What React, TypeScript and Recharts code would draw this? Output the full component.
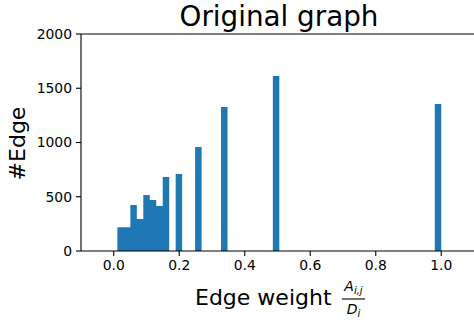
import React from 'react';
import {
  ComposedChart,
  Area,
  XAxis,
  YAxis,
  ReferenceLine,
} from 'recharts';

// histogram: 50 bins between the smallest weight and 1.0
const binStart = 1 / 90;
const binEnd = 1;
const binCounts = [
  220, 220, 424, 295, 516, 470, 415, 682, 0, 710,
  0, 0, 958, 0, 0, 0, 1327, 0, 0, 0,
  0, 0, 0, 0, 1613, 0, 0, 0, 0, 0,
  0, 0, 0, 0, 0, 0, 0, 0, 0, 0,
  0, 0, 0, 0, 0, 0, 0, 0, 0, 1355,
];
const xTicks = [0, 0.2, 0.4, 0.6, 0.8, 1.0];
const yTicks = [0, 500, 1000, 1500, 2000];

const binWidth = (binEnd - binStart) / binCounts.length;
const data = binCounts.map((count, i) => ({ x: binStart + i * binWidth, count }));
data.push({ x: binEnd, count: binCounts[binCounts.length - 1] });

const FONT = 'DejaVu Sans';
const BLUE = '#1f77b4';

function XLabel(props: any) {
  const { x, y } = props.viewBox;
  const tx = x + 114;
  const ty = y + 54;
  const fx = tx + 158.5; // fraction centre
  const ly = ty - 6;
  return (
    <g fontFamily={FONT} fill="#000">
      <text x={tx} y={ty} fontSize={22}>
        Edge weight
      </text>
      <text x={fx} y={ly - 8} fontSize={14} fontStyle="italic" textAnchor="middle">
        A
        <tspan fontSize={10} dy={3}>i,j</tspan>
      </text>
      <line x1={fx - 11.5} x2={fx + 11.5} y1={ly} y2={ly} stroke="#000" strokeWidth={1.1} />
      <text x={fx} y={ly + 14.5} fontSize={14} fontStyle="italic" textAnchor="middle">
        D
        <tspan fontSize={10} dy={3}>i</tspan>
      </text>
    </g>
  );
}

function YLabel(props: any) {
  const { y, height } = props.viewBox;
  const cx = 25;
  const cy = y + height / 2 + 1;
  return (
    <text
      x={cx}
      y={cy}
      transform={`rotate(-90, ${cx}, ${cy})`}
      textAnchor="middle"
      fontSize={22}
      fontFamily={FONT}
      fill="#000"
    >
      #Edge
    </text>
  );
}

export default function App() {
  return (
    <div style={{ width: 474, height: 322, position: 'relative' }}>
      <style>{`body{margin:0}`}</style>
      <ComposedChart
        width={474}
        height={322}
        data={data}
        margin={{ top: 34, right: 0, bottom: 0, left: 0 }}
      >
        <XAxis
          dataKey="x"
          type="number"
          domain={[-0.1, 1.1]}
          ticks={xTicks}
          tickFormatter={(v) => Number(v).toFixed(1)}
          allowDataOverflow
          height={71}
          tickSize={5}
          tickMargin={4}
          axisLine={{ stroke: '#000', strokeWidth: 1.1 }}
          tickLine={{ stroke: '#000', strokeWidth: 1.1 }}
          tick={{ fill: '#000', fontSize: 13.9, fontFamily: FONT }}
          label={<XLabel />}
        />
        <YAxis
          type="number"
          domain={[0, 2000]}
          ticks={yTicks}
          width={81}
          tickSize={5}
          tickMargin={4}
          axisLine={{ stroke: '#000', strokeWidth: 1.1 }}
          tickLine={{ stroke: '#000', strokeWidth: 1.1 }}
          tick={{ fill: '#000', fontSize: 13.9, fontFamily: FONT }}
          label={<YLabel />}
        />
        <ReferenceLine y={2000} stroke="#000" strokeWidth={1.1} />
        <Area
          type="stepAfter"
          dataKey="count"
          stroke="none"
          fill={BLUE}
          fillOpacity={1}
          isAnimationActive={false}
        />
        <text
          x={279}
          y={26}
          textAnchor="middle"
          fontSize={27.8}
          fontFamily={FONT}
          fill="#000"
        >
          Original graph
        </text>
      </ComposedChart>
    </div>
  );
}
